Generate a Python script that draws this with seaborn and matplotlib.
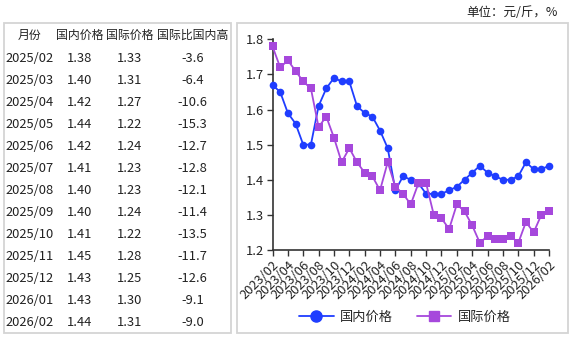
import matplotlib
matplotlib.use("Agg")
import matplotlib.pyplot as plt
import seaborn as sns
import pandas as pd
import numpy as np
from matplotlib.patches import Rectangle
from matplotlib.lines import Line2D

months = ["2023/02", "2023/03", "2023/04", "2023/05", "2023/06", "2023/07", "2023/08", "2023/09",
          "2023/10", "2023/11", "2023/12", "2024/01", "2024/02", "2024/03", "2024/04", "2024/05",
          "2024/06", "2024/07", "2024/08", "2024/09", "2024/10", "2024/11", "2024/12", "2025/01",
          "2025/02", "2025/03", "2025/04", "2025/05", "2025/06", "2025/07", "2025/08", "2025/09",
          "2025/10", "2025/11", "2025/12", "2026/01", "2026/02"]
domestic = [1.67, 1.65, 1.59, 1.56, 1.50, 1.50, 1.61, 1.66, 1.69, 1.68, 1.68, 1.61, 1.59, 1.58,
            1.54, 1.49, 1.37, 1.41, 1.40, 1.39, 1.36, 1.36, 1.36, 1.37, 1.38, 1.40, 1.42, 1.44,
            1.42, 1.41, 1.40, 1.40, 1.41, 1.45, 1.43, 1.43, 1.44]
international = [1.78, 1.72, 1.74, 1.71, 1.68, 1.66, 1.55, 1.58, 1.52, 1.45, 1.49, 1.45, 1.42,
                 1.41, 1.37, 1.45, 1.38, 1.36, 1.33, 1.39, 1.39, 1.30, 1.29, 1.26, 1.33, 1.31,
                 1.27, 1.22, 1.24, 1.23, 1.23, 1.24, 1.22, 1.28, 1.25, 1.30, 1.31]

table_header = ["月份", "国内价格", "国际价格", "国际比国内高"]
table_months = ["2025/02", "2025/03", "2025/04", "2025/05", "2025/06", "2025/07", "2025/08",
                "2025/09", "2025/10", "2025/11", "2025/12", "2026/01", "2026/02"]
table_domestic = ["1.38", "1.40", "1.42", "1.44", "1.42", "1.41", "1.40", "1.40", "1.41",
                  "1.45", "1.43", "1.43", "1.44"]
table_international = ["1.33", "1.31", "1.27", "1.22", "1.24", "1.23", "1.23", "1.24", "1.22",
                       "1.28", "1.25", "1.30", "1.31"]
table_diff = ["-3.6", "-6.4", "-10.6", "-15.3", "-12.7", "-12.8", "-12.1", "-11.4", "-13.5",
              "-11.7", "-12.6", "-9.1", "-9.0"]

series_names = ["国内价格", "国际价格"]
unit_text = "单位：元/斤，%"

sns.set_theme(style="white")
plt.rcParams["font.family"] = ["Noto Sans CJK SC", "DejaVu Sans"]
plt.rcParams["axes.unicode_minus"] = False

W, H = 572, 338
fig = plt.figure(figsize=(W / 100, H / 100), dpi=100)

def fx(px):
    return px / W

def fy(py):
    return 1 - py / H

# panel borders
border_col = "#d4d4d4"
for (x0, y0, x1, y1) in [(4, 23, 231, 333), (237, 23, 568, 333)]:
    fig.patches.append(Rectangle((fx(x0), fy(y1)), fx(x1) - fx(x0), fy(y0) - fy(y1),
                                 transform=fig.transFigure, fill=False,
                                 edgecolor=border_col, linewidth=1.3))

# unit text
fig.text(fx(558), fy(13), unit_text, ha="right", va="center", fontsize=9, color="#222222")

# table
col_x = [29.5, 79.5, 129.5, 192.5]
txt_col = "#222222"
for cx, h in zip(col_x, table_header):
    fig.text(fx(cx), fy(35), h, ha="center", va="center", fontsize=8.6, color=txt_col)
cols = [table_months, table_domestic, table_international, table_diff]
for i in range(len(table_months)):
    yy = 58 + i * 22.08
    for cx, col in zip(col_x, cols):
        fig.text(fx(cx), fy(yy), col[i], ha="center", va="center", fontsize=9.3, color=txt_col)

# chart
ax = fig.add_axes([fx(272.5), fy(250), fx(549) - fx(272.5), fy(39.3) - fy(250)])
df = pd.DataFrame({
    "idx": list(range(len(months))) * 2,
    "value": domestic + international,
    "series": [series_names[0]] * len(months) + [series_names[1]] * len(months),
})
blue = "#1f3dff"
purple = "#a648dc"
palette = {series_names[0]: blue, series_names[1]: purple}
markers = {series_names[0]: "o", series_names[1]: "s"}
sns.lineplot(data=df, x="idx", y="value", hue="series", style="series", palette=palette,
             markers=markers, dashes=False, markersize=5.5, markeredgewidth=0,
             linewidth=1.3, ax=ax, legend=False)
for ln in ax.lines:
    ln.set_clip_on(False)
    ln.set_zorder(3)

ax.set_xlim(0, len(months) - 1)
ax.set_ylim(1.2, 1.8)
ax.set_yticks(np.arange(1.2, 1.81, 0.1))
ax.set_yticklabels([f"{v:.1f}" for v in np.arange(1.2, 1.81, 0.1)], fontsize=9.3, color="#222222")
tick_idx = list(range(0, len(months), 2))
ax.set_xticks(tick_idx)
ax.set_xticklabels([months[i] for i in tick_idx], rotation=45, ha="right",
                   rotation_mode="anchor", fontsize=9.3, color="#222222")
ax.set_xlabel("")
ax.set_ylabel("")
for s in ["top", "right"]:
    ax.spines[s].set_visible(False)
for s in ["left", "bottom"]:
    ax.spines[s].set_color("#333333")
    ax.spines[s].set_linewidth(1.2)
    ax.spines[s].set_zorder(2)
ax.tick_params(axis="both", which="major", length=4, width=1, color="#333333",
               direction="out", pad=2, left=True, bottom=True)
ax.set_facecolor("none")

handles = [Line2D([0], [0], color=blue, marker="o", markersize=8, linewidth=1.3),
           Line2D([0], [0], color=purple, marker="s", markersize=7, linewidth=1.3)]
fig.legend(handles, series_names, loc="center", bbox_to_anchor=(fx(405), fy(317)),
           ncol=2, frameon=False, fontsize=9.5, handlelength=2.6, columnspacing=1.8,
           handletextpad=0.5)

fig.savefig("out.png", dpi=100)
